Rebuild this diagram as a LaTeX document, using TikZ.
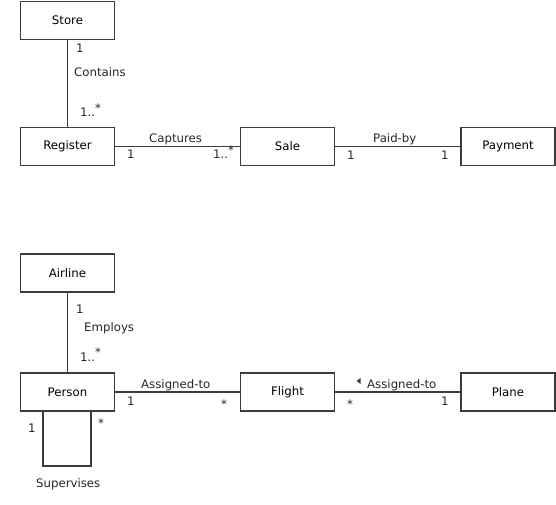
\documentclass[tikz,border=0pt]{standalone}
\usepackage{fontspec}
\setmainfont{DejaVu Sans}
\definecolor{linegray}{HTML}{3C3C3C}
\newcommand{\umlfont}{\fontsize{11.8}{13}\selectfont}
\newcommand{\oneormore}{1..\raisebox{0.36em}{*}}
\begin{document}
\begin{tikzpicture}[x=1bp,y=-1bp,
		class/.style={draw=linegray,line width=1.4bp,fill=white,minimum width=94bp,minimum height=38bp,inner sep=0pt,font=\umlfont},
		assoc/.style={draw=linegray,line width=1.4bp},
		lbl/.style={inner sep=0pt,anchor=base west,font=\umlfont,text=black!85}]
				\useasboundingbox (0,0) rectangle (556,505);
				% classes, first diagram
				\node[class] (store) at (67.5,20.5) {Store};
				\node[class] (register) at (67.5,146.5) {Register};
				\node[class] (sale) at (287.5,146.5) {Sale};
				\node[class] (payment) at (508,146.5) {Payment};
				% classes, second diagram
				\node[class] (airline) at (67.5,273) {Airline};
				\node[class] (person) at (67.5,392) {Person};
				\node[class] (flight) at (287.5,392) {Flight};
				\node[class] (plane) at (508,392) {Plane};
				% associations
				\draw[assoc] (store) -- (register);
				\draw[assoc] (register) -- (sale);
				\draw[assoc] (sale) -- (payment);
				\draw[assoc] (airline) -- (person);
				\draw[assoc] (person) -- (flight);
				\draw[assoc] (flight) -- (plane);
				\coordinate (loopA) at (43,466);
				\coordinate (loopB) at (91,466);
				\draw[assoc] (person.south -| loopA) -- (loopA) -- (loopB) -- (person.south -| loopB);
				% labels and multiplicities
				\node[lbl] (containsOne) at (76,53) {1};
				\node[lbl] (contains) at (74,77) {Contains};
				\node[lbl] (containsMany) at (80,117) {\oneormore};
				\node[lbl] (captures) at (149,143) {Captures};
				\node[lbl] (capturesOne) at (127,159) {1};
				\node[lbl] (capturesMany) at (213,159) {\oneormore};
				\node[lbl] (paidby) at (373,143) {Paid-by};
				\node[lbl] (paidbyOneA) at (347,160) {1};
				\node[lbl] (paidbyOneB) at (441,160) {1};
				\node[lbl] (employsOne) at (76,313) {1};
				\node[lbl] (employs) at (84,331) {Employs};
				\node[lbl] (employsMany) at (80,361) {\oneormore};
				\node[lbl] (assignedA) at (141,388) {Assigned-to};
				\node[lbl] (assignedAOne) at (127,405) {1};
				\node[lbl] (assignedAMany) at (221,408) {*};
				\node[lbl] (assignedB) at (367,388) {Assigned-to};
				\node[lbl] (assignedBMany) at (347,408) {*};
				\node[lbl] (assignedBOne) at (441,405) {1};
				\fill[linegray] (360.5,378) -- (356.5,381) -- (360.5,384) -- cycle;
				\node[lbl] (supervisesOne) at (28,432) {1};
				\node[lbl] (supervisesMany) at (98,427) {*};
				\node[lbl] (supervises) at (36,487) {Supervises};
		\end{tikzpicture}
\end{document}
